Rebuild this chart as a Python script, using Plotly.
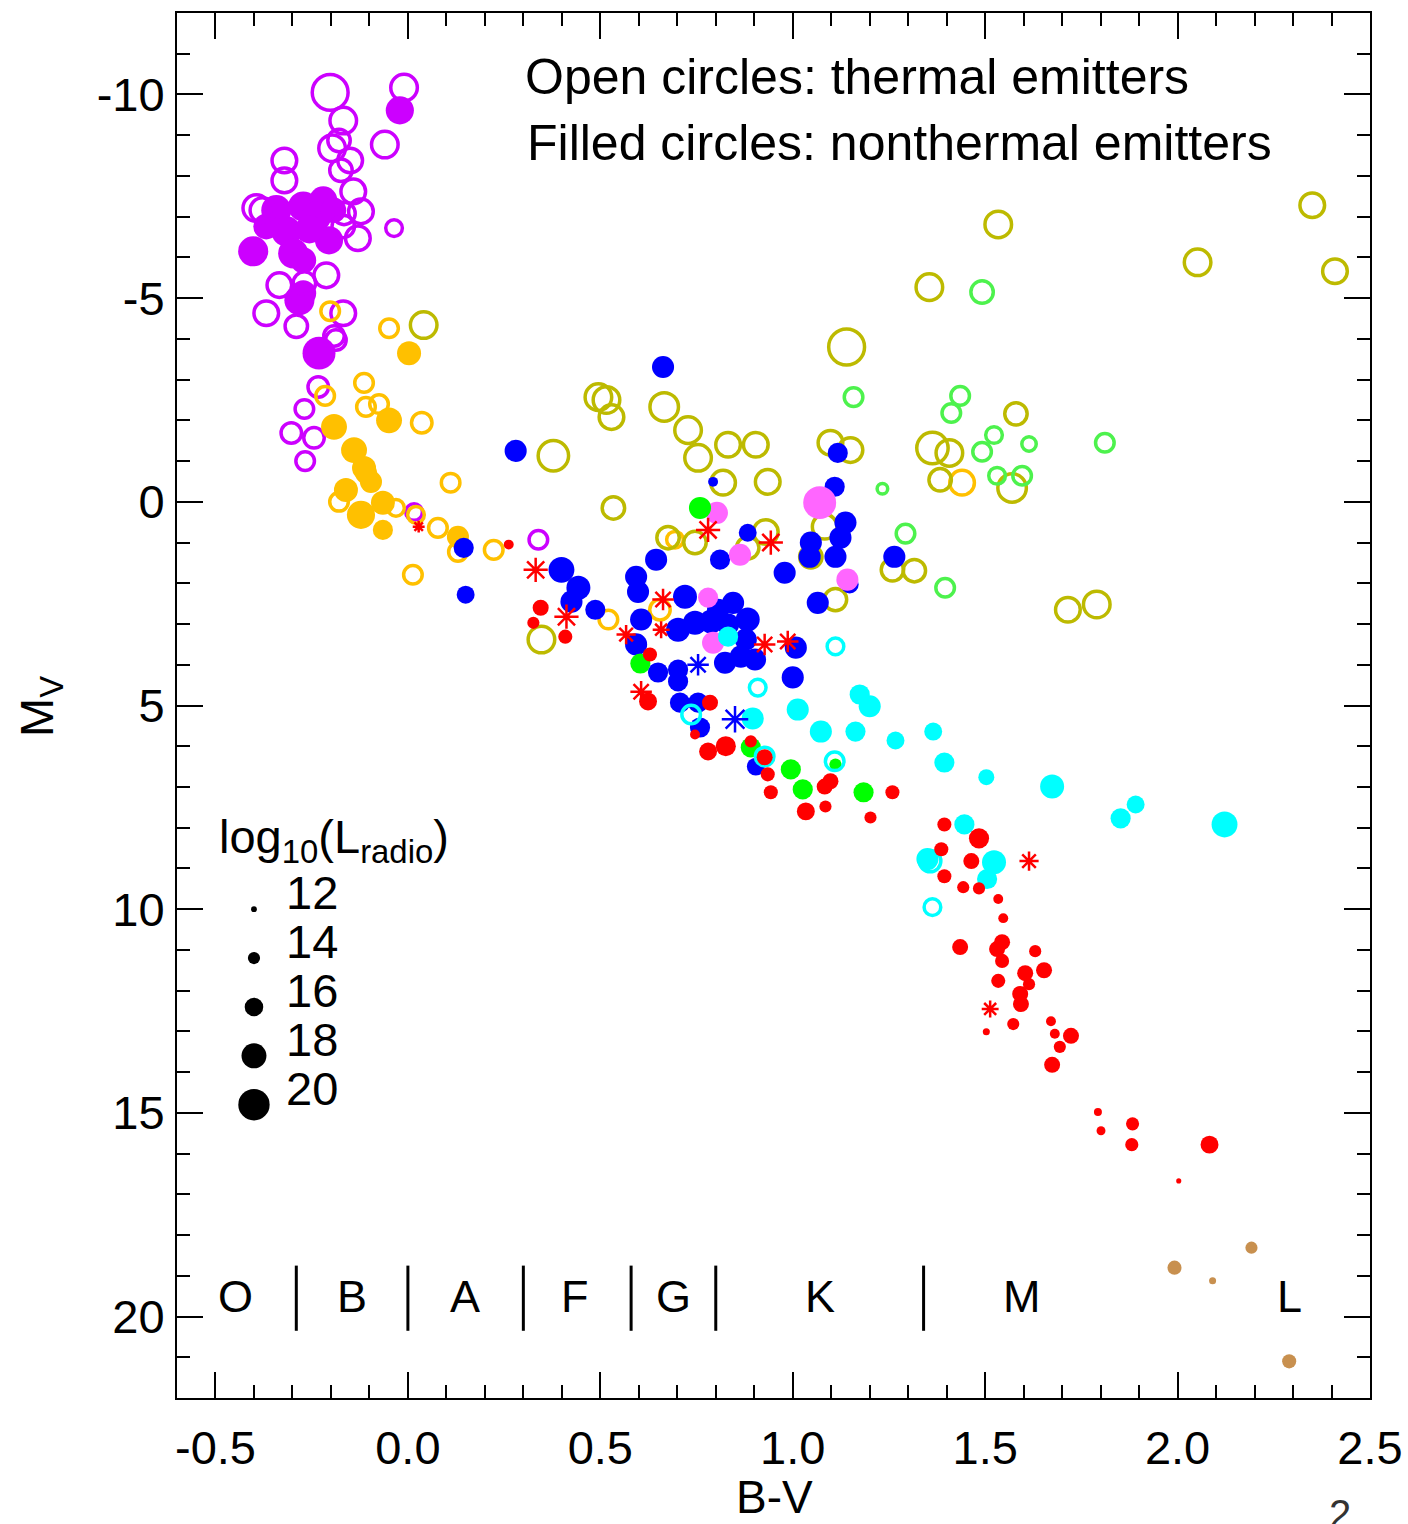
import numpy as np
import plotly.graph_objects as go

FONT = "Liberation Sans, Arial, Helvetica, sans-serif"

# ---- colour-magnitude data: B-V colour, absolute V magnitude, log10 radio luminosity ----
purple_open_bv = [-0.202, -0.010, -0.168, -0.060, -0.197, -0.179, -0.150, -0.321, -0.321, -0.174, -0.142,
                  -0.122, -0.036, -0.130, -0.394, -0.166, -0.168, -0.334, -0.212, -0.368, -0.168, -0.290,
                  -0.192, -0.269, -0.187, -0.233, -0.269, -0.303, -0.244, -0.267, 0.016, 0.339, -0.378]
purple_open_mv = [-10.05, -10.17, -9.36, -8.77, -8.68, -8.87, -8.38, -8.38, -7.89, -8.14, -7.62,
                  -7.13, -6.72, -6.47, -7.21, -7.08, -6.76, -5.32, -5.56, -4.63, -4.63, -4.31,
                  -4.07, -5.37, -3.97, -2.82, -2.28, -1.69, -1.57, -1.00, 0.25, 0.93, -7.16]
purple_open_L = [22.5, 19.6, 19.6, 19.6, 19.6, 18.3, 19.0, 19.0, 19.0, 18.3, 19.0,
                 19.0, 16.5, 19.0, 19.6, 18.3, 18.3, 19.0, 19.0, 19.0, 19.0, 18.3,
                 17.7, 18.3, 17.7, 17.7, 17.1, 17.7, 17.7, 17.1, 16.5, 17.1, 19.0]

purple_fill_bv = [-0.021, -0.342, -0.272, -0.220, -0.238, -0.316, -0.368, -0.402, -0.298, -0.205,
                  -0.272, -0.282, -0.272, -0.231, -0.256, -0.194]
purple_fill_mv = [-9.61, -7.16, -7.25, -7.40, -7.01, -6.64, -6.76, -6.15, -6.10, -6.42,
                  -5.93, -4.95, -5.12, -3.65, -6.69, -7.16]
purple_fill_L = [19.0, 19.6, 19.6, 19.0, 19.6, 19.6, 18.3, 19.6, 19.6, 19.0,
                 18.3, 19.6, 18.3, 20.5, 19.0, 18.3]

orange_open_bv = [-0.202, -0.049, -0.215, -0.114, -0.109, -0.075, 0.036, -0.179, -0.031, 0.021,
                  0.078, 0.130, 0.111, 0.013, 0.223, 0.521, 0.655, 0.694, 1.440]
orange_open_mv = [-4.68, -4.26, -2.60, -2.92, -2.33, -2.40, -1.94, 0.00, 0.15, 0.32,
                  0.64, 1.23, -0.47, 1.79, 1.18, 2.89, 2.65, 0.93, -0.47]
orange_open_L = [17.1, 17.1, 17.1, 17.1, 17.1, 17.1, 17.7, 17.1, 16.5, 16.5,
                 17.1, 17.1, 17.1, 17.1, 17.1, 17.1, 17.7, 16.5, 19.0]

orange_fill_bv = [0.003, -0.049, -0.192, -0.140, -0.114, -0.096, -0.161, -0.122, -0.065, -0.065, 0.130, -0.109]
orange_fill_mv = [-3.65, -2.00, -1.84, -1.27, -0.83, -0.49, -0.29, 0.32, 0.02, 0.69, 0.86, -0.71]
orange_fill_L = [17.7, 18.3, 18.3, 18.3, 17.7, 17.1, 17.7, 19.0, 17.7, 16.5, 17.1, 17.1]

olive_open_bv = [0.041, 1.140, 0.495, 0.516, 0.529, 0.666, 0.728, 0.754, 0.832, 0.904,
                 0.378, 0.819, 0.935, 1.098, 1.150, 0.534, 1.083, 0.676, 0.746, 0.883,
                 0.930, 1.047, 1.111, 0.347, 1.534, 1.355, 2.052, 2.350, 2.409, 1.580,
                 1.363, 1.407, 1.383, 1.570, 1.259, 1.316, 1.715, 1.790]
olive_open_mv = [-4.34, -3.80, -2.57, -2.50, -2.08, -2.33, -1.76, -1.08, -1.40, -1.40,
                 -1.13, -0.47, -0.49, -1.45, -1.27, 0.15, 0.61, 0.88, 1.00, 1.13,
                 0.74, 1.35, 2.40, 3.38, -6.81, -5.27, -5.88, -7.28, -5.66, -2.16,
                 -1.32, -1.20, -0.54, -0.34, 1.67, 1.69, 2.65, 2.52]
olive_open_L = [19.6, 22.5, 19.6, 19.6, 19.0, 20.2, 19.6, 19.6, 19.0, 19.0,
                20.8, 19.0, 19.0, 19.0, 19.0, 18.3, 19.0, 18.3, 18.3, 18.3,
                19.0, 18.3, 18.3, 19.6, 19.6, 19.6, 19.6, 19.0, 19.0, 18.3,
                21.1, 19.6, 18.3, 20.2, 18.3, 18.3, 19.0, 19.6]

lgreen_open_bv = [1.158, 1.435, 1.412, 1.523, 1.492, 1.614, 1.811, 1.531, 1.596, 1.233, 1.293, 1.396, 1.492]
lgreen_open_mv = [-2.57, -2.60, -2.18, -1.64, -1.23, -1.42, -1.45, -0.64, -0.64, -0.32, 0.78, 2.11, -5.15]
lgreen_open_L = [17.1, 17.1, 17.1, 16.5, 17.1, 15.8, 17.1, 16.5, 17.1, 14.6, 17.1, 17.1, 18.3]

blue_fill_bv = [0.663, 0.280, 0.793, 1.117, 1.109, 1.137, 1.124, 0.645, 0.811, 0.883,
                0.979, 1.044, 1.111, 1.065, 0.145, 0.150, 0.399, 0.443, 0.425, 0.487,
                0.593, 0.598, 0.720, 0.845, 0.606, 0.593, 0.650, 0.702, 0.702, 0.702,
                0.746, 0.788, 0.883, 0.824, 0.865, 0.902, 0.878, 1.008, 1.000, 0.707,
                0.754, 0.759, 0.904, 1.264, 1.047, 1.148, 0.806, 0.832]
blue_fill_mv = [-3.31, -1.25, -0.49, -1.20, -0.37, 0.51, 0.88, 1.42, 1.42, 0.76,
                1.74, 1.35, 1.35, 2.48, 1.13, 2.28, 1.67, 2.11, 2.45, 2.65,
                1.84, 2.21, 2.33, 2.48, 2.89, 3.50, 4.19, 4.12, 4.41, 3.14,
                2.97, 2.94, 2.89, 3.95, 3.80, 3.87, 3.38, 3.58, 4.31, 4.93,
                4.93, 5.54, 6.50, 1.35, 1.00, 2.03, 2.65, 3.01]
blue_fill_L = [17.1, 17.1, 13.3, 16.5, 16.5, 17.1, 17.1, 17.1, 16.5, 15.8,
               17.1, 17.1, 17.1, 17.1, 16.5, 15.8, 18.3, 17.7, 17.1, 16.5,
               17.1, 17.1, 17.7, 17.1, 17.1, 17.1, 16.5, 16.5, 16.5, 17.7,
               17.7, 17.7, 17.7, 17.1, 17.1, 17.1, 17.1, 17.1, 17.1, 16.5,
               16.5, 16.5, 15.8, 17.1, 17.1, 15.8, 17.1, 17.1]

blue_ast_bv = [0.754, 0.850]
blue_ast_mv = [4.00, 5.34]
blue_ast_L = [15.8, 17.1]

pink_fill_bv = [0.803, 1.070, 0.863, 1.142, 0.780, 0.793]
pink_fill_mv = [0.27, 0.02, 1.30, 1.91, 2.35, 3.46]
pink_fill_L = [17.1, 20.5, 17.1, 17.1, 16.5, 17.1]

green_fill_bv = [0.759, 0.604, 0.891, 0.995, 1.026, 1.184, 1.111]
green_fill_mv = [0.15, 3.97, 6.03, 6.57, 7.06, 7.13, 6.45]
green_fill_L = [17.1, 16.5, 16.5, 16.5, 16.5, 16.5, 14.0]

cyan_open_bv = [1.111, 0.909, 0.736, 0.927, 1.109, 1.357, 1.363]
cyan_open_mv = [3.55, 4.56, 5.22, 6.25, 6.37, 8.82, 9.95]
cyan_open_L = [16.5, 16.5, 17.1, 17.1, 17.1, 18.0, 16.5]

cyan_fill_bv = [0.832, 0.896, 1.013, 1.073, 1.163, 1.174, 1.200, 1.267, 1.365, 1.394,
                1.503, 1.674, 1.891, 1.852, 2.122, 1.446, 1.523, 1.505, 1.350]
cyan_fill_mv = [3.31, 5.32, 5.10, 5.64, 5.64, 4.73, 5.02, 5.86, 5.64, 6.40,
                6.76, 6.99, 7.43, 7.77, 7.92, 7.92, 8.85, 9.26, 8.77]
cyan_fill_L = [16.5, 17.1, 17.1, 17.1, 16.5, 16.5, 17.1, 15.8, 15.8, 16.5,
               15.2, 17.7, 15.8, 16.5, 18.3, 16.5, 17.7, 16.5, 17.1]

red_fill_bv = [0.262, 0.345, 0.326, 0.409, 0.629, 0.624, 0.785, 0.746, 0.780, 0.826,
               0.891, 0.927, 0.935, 0.943, 1.083, 1.098, 1.034, 1.085, 1.202, 1.259,
               1.394, 1.484, 1.386, 1.464, 1.394, 1.443, 1.484, 1.534, 1.547, 1.435,
               1.544, 1.531, 1.544, 1.630, 1.604, 1.653, 1.614, 1.534, 1.591, 1.593,
               1.573, 1.503, 1.671, 1.681, 1.723, 1.694, 1.674, 1.793, 1.801, 1.883,
               1.881, 2.083, 2.003]
red_fill_mv = [1.05, 2.60, 2.97, 3.31, 3.75, 4.90, 4.93, 5.71, 6.13, 6.00,
               5.88, 6.27, 6.69, 7.13, 6.99, 6.86, 7.60, 7.48, 7.75, 7.13,
               7.92, 8.26, 8.53, 8.82, 9.19, 9.46, 9.49, 9.75, 10.22, 10.93,
               10.81, 10.98, 11.27, 11.03, 11.57, 11.50, 11.84, 11.76, 12.08, 12.33,
               12.82, 13.01, 12.75, 13.06, 13.11, 13.38, 13.82, 14.98, 15.44, 15.27,
               15.78, 15.78, 16.67]
red_fill_L = [13.3, 15.2, 14.0, 14.6, 14.6, 15.8, 15.2, 13.3, 15.8, 16.5,
              14.0, 15.2, 14.6, 14.6, 15.2, 15.2, 15.8, 14.0, 14.0, 14.6,
              14.6, 16.5, 14.6, 15.2, 14.6, 14.0, 14.0, 13.3, 13.3, 15.2,
              15.2, 15.2, 14.6, 14.0, 15.2, 15.2, 14.0, 14.6, 15.2, 15.2,
              14.0, 12.4, 13.3, 13.3, 15.2, 14.0, 15.2, 12.7, 13.0, 14.3,
              14.3, 15.8, 11.8]

red_ast_bv = [0.028, 0.780, 0.943, 0.332, 0.412, 0.567, 0.663, 0.658, 0.927, 0.987, 0.606, 1.614, 1.513]
red_ast_mv = [0.61, 0.69, 1.00, 1.67, 2.82, 3.26, 2.40, 3.14, 3.50, 3.43, 4.66, 8.82, 12.45]
red_ast_L = [13.3, 16.5, 16.5, 16.5, 16.5, 15.2, 15.8, 14.6, 15.8, 15.8, 15.8, 15.2, 14.6]

brown_fill_bv = [1.992, 2.192, 2.091, 2.290]
brown_fill_mv = [18.80, 18.31, 19.12, 21.10]
brown_fill_L = [14.6, 14.0, 12.4, 14.6]

# size key and spectral-class strip
key_levels = [12, 14, 16, 18, 20]
class_names = ["O", "B", "A", "F", "G", "K", "M", "L"]
class_centers = [-0.448, -0.145, 0.148, 0.435, 0.689, 1.07, 1.596, 2.29]
class_bounds = [-0.29, 0.0, 0.30, 0.58, 0.80, 1.34]

x_tickvals = [-0.5, 0.0, 0.5, 1.0, 1.5, 2.0, 2.5]
x_ticktext = ["-0.5", "0.0", "0.5", "1.0", "1.5", "2.0", "2.5"]
y_tickvals = [-10, -5, 0, 5, 10, 15, 20]
y_ticktext = ["-10", "-5", "0", "5", "10", "15", "20"]


def dot_size(logl):
    return 3.2 * (np.asarray(logl, dtype=float) - 10.2)


fig = go.Figure()


def add_group(bv, mv, logl, color, style):
    size = dot_size(logl)
    if style == "filled":
        marker = dict(symbol="circle", color=color, size=size, opacity=1, line=dict(width=0))
    elif style == "open":
        marker = dict(symbol="circle-open", color=color, size=size - 3.5, opacity=1,
                      line=dict(width=3.5, color=color))
    else:
        marker = dict(symbol="asterisk-open", color=color, size=size, opacity=1,
                      line=dict(width=2.5, color=color))
    fig.add_trace(go.Scatter(x=bv, y=mv, mode="markers", marker=marker,
                             showlegend=False, hoverinfo="skip"))


add_group(purple_fill_bv, purple_fill_mv, purple_fill_L, "#CC00FF", "filled")
add_group(purple_open_bv, purple_open_mv, purple_open_L, "#CC00FF", "open")
add_group(orange_fill_bv, orange_fill_mv, orange_fill_L, "#FFC000", "filled")
add_group(orange_open_bv, orange_open_mv, orange_open_L, "#FFC000", "open")
add_group(olive_open_bv, olive_open_mv, olive_open_L, "#BDBA00", "open")
add_group(lgreen_open_bv, lgreen_open_mv, lgreen_open_L, "#4DF24D", "open")
add_group(blue_fill_bv, blue_fill_mv, blue_fill_L, "#0000FF", "filled")
add_group(pink_fill_bv, pink_fill_mv, pink_fill_L, "#FF66FF", "filled")
add_group(green_fill_bv, green_fill_mv, green_fill_L, "#00FF00", "filled")
add_group(cyan_fill_bv, cyan_fill_mv, cyan_fill_L, "#00FFFF", "filled")
add_group(cyan_open_bv, cyan_open_mv, cyan_open_L, "#00FFFF", "open")
add_group(red_fill_bv, red_fill_mv, red_fill_L, "#FF0000", "filled")
add_group(brown_fill_bv, brown_fill_mv, brown_fill_L, "#C8904F", "filled")
add_group(blue_ast_bv, blue_ast_mv, blue_ast_L, "#0000FF", "asterisk")
add_group(red_ast_bv, red_ast_mv, red_ast_L, "#FF0000", "asterisk")

# size key: one black dot per luminosity level
key_x = -0.40
key_y = [10.0 + 1.2 * i for i in range(len(key_levels))]
fig.add_trace(go.Scatter(x=[key_x] * len(key_levels), y=key_y, mode="markers",
                         marker=dict(symbol="circle", color="black", size=dot_size(key_levels),
                                     opacity=1, line=dict(width=0)),
                         showlegend=False, hoverinfo="skip"))

# spectral-class separators
sep_x, sep_y = [], []
for b in class_bounds:
    sep_x += [b, b, None]
    sep_y += [18.75, 20.35, None]
fig.add_trace(go.Scatter(x=sep_x, y=sep_y, mode="lines", line=dict(color="black", width=3),
                         showlegend=False, hoverinfo="skip"))

annotations = []
for name, cx in zip(class_names, class_centers):
    annotations.append(dict(x=cx, y=19.5, xref="x", yref="y", text=name, showarrow=False,
                            xanchor="center", yanchor="middle",
                            font=dict(family=FONT, size=45, color="black")))
for lvl, ky in zip(key_levels, key_y):
    annotations.append(dict(x=-0.322, y=ky - 0.4, xref="x", yref="y", text=str(lvl), showarrow=False,
                            xanchor="left", yanchor="middle",
                            font=dict(family=FONT, size=47, color="black")))
annotations.append(dict(x=-0.497, y=8.3, xref="x", yref="y",
                        text="log<sub>10</sub>(L<sub>radio</sub>)", showarrow=False,
                        xanchor="left", yanchor="middle",
                        font=dict(family=FONT, size=47, color="black")))
annotations.append(dict(x=0.30, y=-10.44, xref="x", yref="y", text="Open circles: thermal emitters",
                        showarrow=False, xanchor="left", yanchor="middle",
                        font=dict(family=FONT, size=50, color="black")))
annotations.append(dict(x=0.305, y=-8.80, xref="x", yref="y", text="Filled circles: nonthermal emitters",
                        showarrow=False, xanchor="left", yanchor="middle",
                        font=dict(family=FONT, size=50, color="black")))
annotations.append(dict(x=0.501, y=-0.0715, xref="paper", yref="paper", text="B-V",
                        showarrow=False, xanchor="center", yanchor="middle", borderpad=0,
                        font=dict(family=FONT, size=46, color="black")))
annotations.append(dict(x=-0.1148, y=0.499, xref="paper", yref="paper", text="M<sub>V</sub>",
                        showarrow=False, xanchor="center", yanchor="middle", textangle=-90,
                        font=dict(family=FONT, size=47, color="black")))
annotations.append(dict(x=0.975, y=-0.084, xref="paper", yref="paper", text="2",
                        showarrow=False, xanchor="center", yanchor="middle",
                        font=dict(family=FONT, size=40, color="#333333")))

axis_common = dict(showline=True, linewidth=2, linecolor="black", mirror="allticks",
                   ticks="inside", ticklen=26, tickwidth=2, tickcolor="black",
                   showgrid=False, zeroline=False, automargin=False,
                   tickfont=dict(family=FONT, size=47, color="black"))

fig.update_layout(
    width=1408, height=1524,
    margin=dict(l=177, r=38, t=13, b=126),
    paper_bgcolor="white", plot_bgcolor="white",
    annotations=annotations,
    xaxis=dict(range=[-0.6, 2.5], tickmode="array", tickvals=x_tickvals, ticktext=x_ticktext,
               ticklabelstandoff=8,
               minor=dict(tickmode="array", tickvals=list(np.round(np.arange(-0.6, 2.51, 0.1), 2)),
                          ticks="inside", ticklen=13, tickwidth=2, tickcolor="black"),
               **axis_common),
    yaxis=dict(range=[22, -12], tickmode="array", tickvals=y_tickvals, ticktext=y_ticktext,
               ticklabelstandoff=1,
               minor=dict(tickmode="array", tickvals=list(range(-12, 23)),
                          ticks="inside", ticklen=13, tickwidth=2, tickcolor="black"),
               **axis_common),
)

fig.write_html("out.html")
